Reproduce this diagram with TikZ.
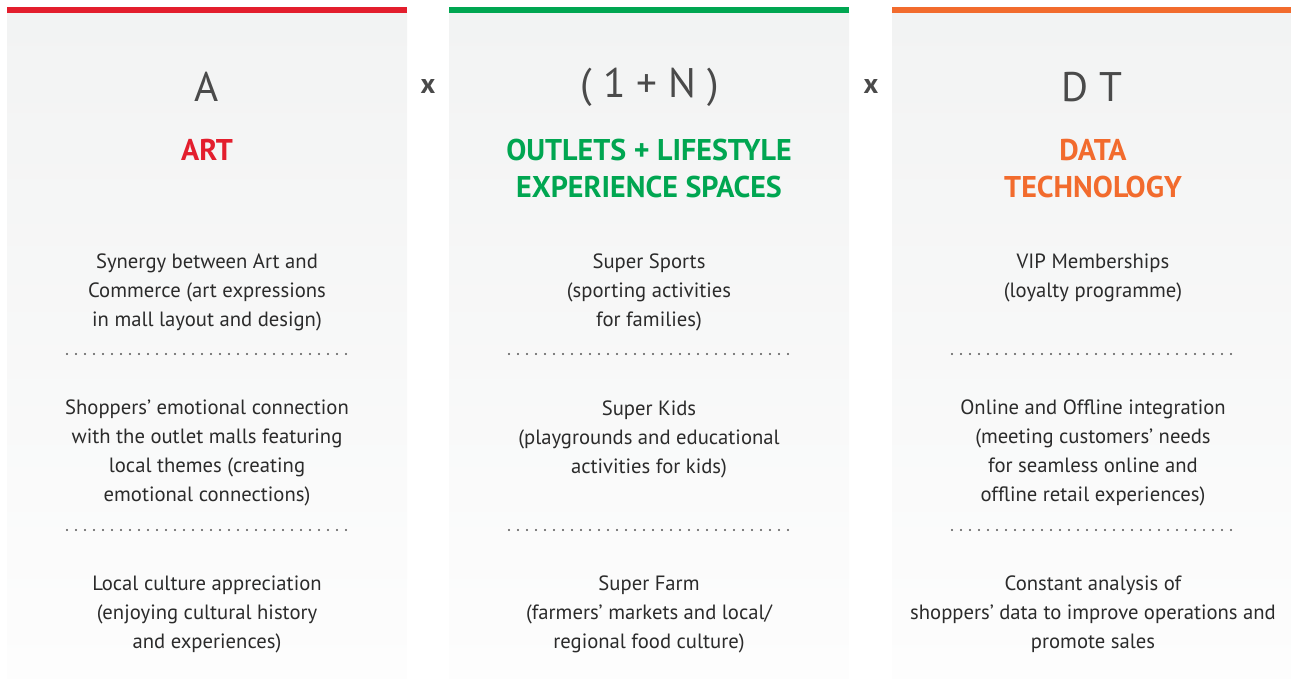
\documentclass[tikz,border=0pt]{standalone}
\usepackage{fontspec}
\setmainfont{PT Sans}
\usetikzlibrary{positioning}
\definecolor{artred}{HTML}{E31E2D}
\definecolor{outgreen}{HTML}{00A651}
\definecolor{dtorange}{HTML}{F26B2D}
\definecolor{symgray}{HTML}{4A4A4A}
\definecolor{bodyink}{HTML}{2B2B2B}
\definecolor{dotgray}{HTML}{555555}
\definecolor{panelgray}{HTML}{F2F3F3}
\definecolor{panelfade}{HTML}{FDFDFD}

\begin{document}
\begin{tikzpicture}[x=0.75pt,y=-0.75pt,
    every node/.style={inner sep=0pt},
    symbol/.style={font=\fontsize{31}{34}\selectfont,text=symgray},
    times/.style={font=\fontsize{21}{24}\selectfont\bfseries,text=symgray},
    heading/.style={font=\fontsize{22.5}{27.75}\selectfont\bfseries,align=center},
    body/.style={font=\fontsize{15.5}{21.75}\selectfont,text=bodyink,align=center},
    sep/.style={draw=dotgray,line width=1.7pt,line cap=round,
                dash pattern=on 0pt off 6.75pt}]
  \useasboundingbox (0,0) rectangle (1291,689);

  % panels with coloured top rule and two dotted separators
  \foreach \cx/\hue in {207/artred,649/outgreen,1092/dtorange}{
    \shade[top color=panelgray,bottom color=panelfade]
      (\cx-200,12) rectangle (\cx+200,678);
    \fill[\hue] (\cx-200,7) rectangle (\cx+200,12.5);
    \draw[sep] (\cx-140,354) -- (\cx+143,354);
    \draw[sep] (\cx-140,530) -- (\cx+143,530);
  }

  % formula
  \node[symbol] (sym-a)  at (207,87)  {A};
  \node[symbol] (sym-n)  at (650,87)  {( 1 + N )};
  \node[symbol] (sym-dt) at (1092,87) {D T};
  \node[times]  (times-1) at (428,86) {x};
  \node[times]  (times-2) at (871,86) {x};

  % headings
  \node[heading,text=artred]   (head-art) at (207,150)    {ART};
  \node[heading,text=outgreen] (head-out) at (649,168.5)  {OUTLETS + LIFESTYLE\\EXPERIENCE SPACES};
  \node[heading,text=dtorange] (head-dt)  at (1093,168.5) {DATA\\TECHNOLOGY};

  % art column
  \node[body] (art-1) at (207,292) {Synergy between Art and\\Commerce (art expressions\\in mall layout and design)};
  \node[body] (art-2) at (207,453) {Shoppers' emotional connection\\with the outlet malls featuring\\local themes (creating\\emotional connections)};
  \node[body] (art-3) at (207,614) {Local culture appreciation\\(enjoying cultural history\\and experiences)};

  % outlets column
  \node[body] (out-1) at (649,292) {Super Sports\\(sporting activities\\for families)};
  \node[body] (out-2) at (649,439) {Super Kids\\(playgrounds and educational\\activities for kids)};
  \node[body] (out-3) at (649,614) {Super Farm\\(farmers' markets and local/\\regional food culture)};

  % data technology column
  \node[body] (dt-1) at (1093,277.5) {VIP Memberships\\(loyalty programme)};
  \node[body] (dt-2) at (1093,453)   {Online and Offline integration\\(meeting customers' needs\\for seamless online and\\offline retail experiences)};
  \node[body] (dt-3) at (1093,614)   {Constant analysis of\\shoppers' data to improve operations and\\promote sales};
\end{tikzpicture}
\end{document}
